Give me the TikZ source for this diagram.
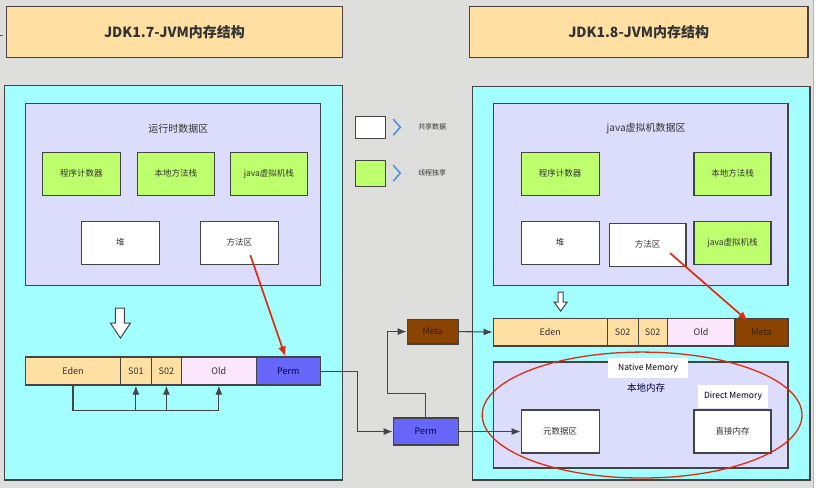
\documentclass[tikz,border=0pt]{standalone}
\usepackage{fontspec}
\setmainfont{Noto Sans CJK SC}
\usetikzlibrary{arrows.meta}
\definecolor{pagebg}{HTML}{DEDEDC}
\definecolor{titlefill}{HTML}{FFDFA2}
\definecolor{cyanfill}{HTML}{A3FFFF}
\definecolor{lavfill}{HTML}{DCDCFC}
\definecolor{greenfill}{HTML}{BEFF6E}
\definecolor{edenfill}{HTML}{FFDFA2}
\definecolor{oldfill}{HTML}{FCE6FC}
\definecolor{permfill}{HTML}{6666F8}
\definecolor{metafill}{HTML}{8A4400}
\definecolor{edge}{HTML}{444444}
\definecolor{txt}{HTML}{333333}
\definecolor{redline}{HTML}{E02A12}
\definecolor{chev}{HTML}{4A8EE0}
\tikzset{
  box/.style={draw=edge, line width=1.2pt, inner sep=0pt, text=txt,
    font=\fontsize{8.5}{10}\selectfont},
  titlebox/.style={box, fill=titlefill, font=\fontsize{14}{16}\selectfont\bfseries},
  area/.style={draw=edge, line width=1.2pt, inner sep=0pt},
  seg/.style={box, minimum height=28pt, font=\fontsize{9}{10}\selectfont},
  tag/.style={fill=white, inner sep=0pt, font=\fontsize{8.5}{10}\selectfont},
  flow/.style={draw=edge, line width=1.1pt, -{Latex[length=9pt,width=7pt]}},
  plain/.style={draw=edge, line width=1.1pt},
  redarrow/.style={draw=redline, line width=1.7pt, -{Latex[length=10pt,width=8pt]}},
  hollow/.style={draw=edge, fill=white, line width=1pt, line join=miter},
  chevron/.style={draw=chev, line width=1.5pt},
  legendtext/.style={text=txt, font=\fontsize{7}{8}\selectfont},
}
\begin{document}
\begin{tikzpicture}[x=1pt, y=-1pt]
% page
\fill[pagebg] (0,0) rectangle (821,488);
\fill[white] (813,0) rectangle (821,488);
\draw[gray!60, line width=0.6pt] (813,0) -- (813,488);
\draw[black!70!cyan, line width=1pt] (0,35) -- (3,35);
\useasboundingbox (0,0) rectangle (821,488);

% titles
\node[titlebox, minimum width=336pt, minimum height=51pt] (t17) at (174,31.5) {JDK1.7-JVM内存结构};
\node[titlebox, minimum width=339pt, minimum height=51pt] (t18) at (638.5,31.5) {JDK1.8-JVM内存结构};

% outer frames
\node[area, fill=cyanfill, minimum width=338pt, minimum height=395pt] (frameL) at (173,282.5) {};
\node[area, fill=cyanfill, minimum width=338pt, minimum height=394pt] (frameR) at (641,283) {};

% ---------- JDK 1.7 ----------
\node[area, fill=lavfill, minimum width=295pt, minimum height=182pt] (rtL) at (172.5,194) {};
\node[text=txt, font=\fontsize{10}{12}\selectfont] (rtLabel) at (178,128) {运行时数据区};
\node[box, fill=greenfill, minimum width=78pt, minimum height=43pt] (pcL) at (81,173.5) {程序计数器};
\node[box, fill=greenfill, minimum width=77pt, minimum height=43pt] (nsL) at (175.5,173.5) {本地方法栈};
\node[box, fill=greenfill, minimum width=77pt, minimum height=43pt] (jsL) at (268.5,173.5) {java虚拟机栈};
\node[box, fill=white, minimum width=78pt, minimum height=43pt] (heapL) at (120,242.5) {堆};
\node[box, fill=white, minimum width=78pt, minimum height=43pt] (maL) at (239,242.5) {方法区};

% hollow down arrow
\draw[hollow] (115,308) -- (124,308) -- (124,323) -- (130,323) -- (120,338) -- (110,323) -- (115,323) -- cycle;

% heap bar
\node[seg, fill=edenfill, minimum width=95pt] (edenL) at (72.5,371) {Eden};
\node[seg, fill=edenfill, minimum width=31pt] (s01L) at (135.5,371) {S01};
\node[seg, fill=edenfill, minimum width=30pt] (s02L) at (166,371) {S02};
\node[seg, fill=oldfill, minimum width=75pt] (oldL) at (218.5,371) {Old};
\node[seg, fill=permfill, minimum width=64pt, text=blue!30!black] (permL) at (288,371) {Perm};

% promotion arrows under the bar
\coordinate (gcBase) at (72.5,410);
\draw[plain] (edenL.south) -- (gcBase) -- (oldL.south |- gcBase);
\draw[flow] (s01L.south |- gcBase) -- (s01L.south);
\draw[flow] (s02L.south |- gcBase) -- (s02L.south);
\draw[flow] (oldL.south |- gcBase) -- (oldL.south);

% method area lives in Perm
\draw[redarrow] (250,255) -- (permL.north -| 285,0);

% ---------- legend ----------
\node[box, fill=white, minimum width=30pt, minimum height=22pt] (legShared) at (370,127) {};
\draw[chevron] (393,119) -- (400,127) -- (393,135);
\node[legendtext] (legSharedTxt) at (432,127) {共享数据};
\node[box, fill=greenfill, minimum width=30pt, minimum height=26pt] (legPriv) at (370,173) {};
\draw[chevron] (393,165) -- (400,173) -- (393,181);
\node[legendtext] (legPrivTxt) at (432,173) {线程独享};

% ---------- migration ----------
\node[box, fill=permfill, minimum width=65pt, minimum height=27pt, text=blue!30!black, font=\fontsize{9}{10}\selectfont] (permM) at (425.5,431.5) {Perm};
\node[box, fill=metafill, minimum width=51pt, minimum height=25pt, text=black!60!metafill, font=\fontsize{9}{10}\selectfont] (metaM) at (432.5,331.5) {Meta};
\draw[flow] (permL.east) -- (357,371) |- (permM.west);
\draw[flow] (permM.north) |- (387,393) |- (metaM.west);

% ---------- JDK 1.8 ----------
\node[area, fill=lavfill, minimum width=295pt, minimum height=182pt] (rtR) at (640.5,194) {};
\node[text=txt, font=\fontsize{10}{12}\selectfont] (rtRLabel) at (646,128) {java虚拟机数据区};
\node[box, fill=greenfill, minimum width=78pt, minimum height=43pt] (pcR) at (560,173.5) {程序计数器};
\node[box, fill=greenfill, minimum width=77pt, minimum height=43pt] (nsR) at (732.5,173.5) {本地方法栈};
\node[box, fill=white, minimum width=78pt, minimum height=43pt] (heapR) at (560,242.5) {堆};
\node[box, fill=white, minimum width=77pt, minimum height=43pt] (maR) at (647.5,244.5) {方法区};
\node[box, fill=greenfill, minimum width=77pt, minimum height=43pt] (jsR) at (732.5,242.5) {java虚拟机栈};

\draw[hollow] (558,292) -- (563,292) -- (563,302) -- (567,302) -- (560.5,311) -- (554,302) -- (558,302) -- cycle;

\node[seg, fill=edenfill, minimum width=114pt] (edenR) at (550,332) {Eden};
\node[seg, fill=edenfill, minimum width=31pt] (s1R) at (622.5,332) {S02};
\node[seg, fill=edenfill, minimum width=29pt] (s2R) at (652.5,332) {S02};
\node[seg, fill=oldfill, minimum width=68pt] (oldR) at (701,332) {Old};
\node[seg, fill=metafill, minimum width=53pt, text=black!60!metafill] (metaR) at (761.5,332) {Meta};

\draw[flow] (metaM.east) -- (edenR.west);
\draw[redarrow] (670,253) -- (748,321);

% native memory
\node[area, fill=lavfill, minimum width=295pt, minimum height=106pt] (native) at (640.5,415) {};
\node[tag, minimum width=80pt, minimum height=20pt] (nativeTag) at (648,368) {Native Memory};
\node[text=blue!25!black, font=\fontsize{9.5}{11}\selectfont] (nativeCn) at (646,388) {本地内存};
\node[tag, minimum width=70pt, minimum height=23pt] (directTag) at (733,396.5) {Direct Memory};
\node[box, fill=white, minimum width=78pt, minimum height=43pt] (metaData) at (560,431.5) {元数据区};
\node[box, fill=white, minimum width=77pt, minimum height=43pt] (direct) at (732.5,431.5) {直接内存};
\draw[flow] (permM.east) -- (metaData.west);

% highlight ring
\draw[redline, line width=1.3pt] (642,415) ellipse [x radius=160pt, y radius=63pt];
\end{tikzpicture}
\end{document}
